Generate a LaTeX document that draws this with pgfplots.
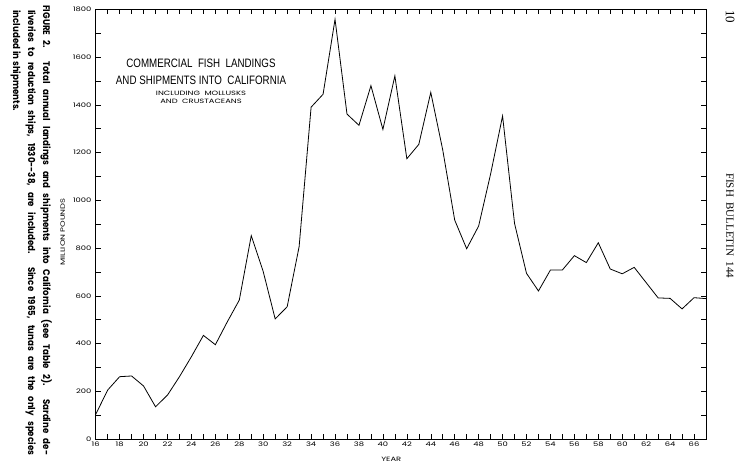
\documentclass[border=0pt]{standalone}
\usepackage{fontspec}
\usepackage{pgfplots}
\pgfplotsset{compat=1.18}
\setmainfont{Liberation Serif}
\newfontfamily\leroy{Poppins}[FakeStretch=1.35]
\newfontfamily\titlefont{Liberation Sans}[FakeStretch=0.8]
\newfontfamily\capfont{Poppins}[FakeStretch=0.9]

\pgfplotstableread{
year pounds
16 103
17 205
18 261
19 264
20 222
21 135
22 184
23 261
24 345
25 434
26 395
27 491
28 582
29 852
30 701
31 503
32 554
33 806
34 1390
35 1444
36 1758
37 1361
38 1314
39 1480
40 1297
41 1521
42 1174
43 1234
44 1452
45 1211
46 917
47 797
48 892
49 1110
50 1353
51 903
52 694
53 620
54 708
55 708
56 768
57 739
58 822
59 712
60 692
61 719
62 655
63 591
64 589
65 545
66 592
67 588
}\landings

\begin{document}
\begin{tikzpicture}
\useasboundingbox (0,0) rectangle (741pt,468pt);
\begin{axis}[
    at={(95.7pt,29pt)}, anchor=south west,
    scale only axis,
    width=610.3pt, height=429.7pt,
    xmin=16, xmax=67,
    ymin=0, ymax=1800,
    xtick={16,18,...,66},
    minor xtick={17,19,...,67},
    ytick={0,200,...,1800},
    minor ytick={100,300,...,1700},
    tick align=inside,
    major tick length=5pt,
    minor tick length=5pt,
    tick style={black, line width=0.5pt},
    axis line style={line width=0.6pt},
    ticklabel style={font=\leroy\fontsize{6.2}{7}\selectfont, inner sep=0pt},
    xticklabel style={yshift=-2.5pt},
    yticklabel style={xshift=-4pt},
    /pgf/number format/assume math mode=true,
    /pgf/number format/1000 sep={},
    clip=false,
]
\addplot[black, line width=0.8pt] table[x=year, y=pounds] {\landings};

\node[font=\titlefont\fontsize{12.2}{16}\selectfont, align=center, inner sep=0pt]
    at (axis cs:24.8,1540) {COMMERCIAL\ \ FISH\ \ LANDINGS\\[1pt]AND SHIPMENTS INTO\ \ CALIFORNIA};
\node[font=\leroy\fontsize{6.2}{7.5}\selectfont, align=center, inner sep=0pt]
    at (axis cs:24.8,1432) {INCLUDING\ \ MOLLUSKS\\AND\ \ CRUSTACEANS};

\node[font=\leroy\fontsize{6.2}{7}\selectfont, inner sep=0pt]
    at (axis cs:40.7,-84) {YEAR};
\node[font=\leroy\fontsize{6.2}{7}\selectfont, inner sep=0pt, rotate=90]
    at (axis cs:13.25,867) {MILLION POUNDS};
\end{axis}

\node[rotate=-90, anchor=north west, inner sep=0pt, align=left,
      font=\capfont\bfseries\fontsize{9.6}{15}\selectfont] at (52pt,463pt)
  {\makebox[450pt][s]{FIGURE 2. Total annual landings and shipments into California (see Table 2). Sardine de-}\\
   \hspace*{5pt}\makebox[445pt][s]{liveries to reduction ships, 1930--38, are included. Since 1965, tunas are the only species}\\
   \hspace*{5pt}included in shipments.};

\node[rotate=-90, anchor=west, inner sep=0pt, font=\fontsize{13}{15}\selectfont]
  at (730pt,458pt) {10};
\node[rotate=-90, anchor=west, inner sep=0pt, font=\fontsize{11}{13}\selectfont]
  at (730pt,295pt) {FISH\ \ BULLETIN\ \ 144};
\end{tikzpicture}
\end{document}
